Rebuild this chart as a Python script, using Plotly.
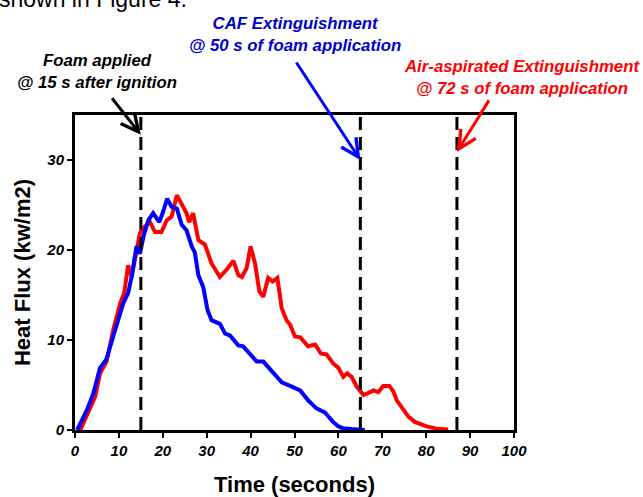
import plotly.graph_objects as go

# ---- data ----
caf_time = [0.5, 2.7, 4.2, 5.7, 7.1, 8.4, 9.9, 11.0, 12.1, 12.9, 14.0, 14.8, 15.6, 16.7, 17.8,
            19.2, 20.1, 21.0, 22.0, 23.2, 24.3, 25.4, 26.6, 27.3, 28.1, 29.2, 30.2, 31.1, 33.0,
            34.2, 35.3, 37.2, 38.3, 39.9, 41.4, 42.9, 44.8, 47.1, 49.0, 51.3, 53.1, 55.0, 56.9,
            58.8, 60.0, 61.0, 63.0, 66.0]
caf_flux = [0.0, 2.2, 4.1, 6.9, 7.8, 10.0, 12.2, 14.1, 15.2, 17.0, 20.4, 19.6, 21.5, 23.3, 24.1,
            23.1, 24.3, 25.7, 24.8, 24.6, 22.8, 22.2, 20.4, 19.7, 17.2, 15.9, 13.3, 12.2, 11.8,
            10.7, 10.5, 9.4, 9.3, 8.5, 7.6, 7.6, 6.5, 5.3, 4.9, 4.4, 3.3, 2.4, 1.96,
            0.9, 0.4, 0.2, 0.1, 0.0]

air_time = [1.2, 3.0, 4.6, 5.7, 7.2, 8.7, 10.3, 11.2, 12.1, 12.9, 14.0, 14.8, 15.9, 17.1, 18.2,
            19.7, 20.9, 22.0, 23.2, 24.3, 25.4, 26.0, 26.9, 28.1, 29.6, 31.1, 33.0, 34.5, 36.1,
            37.2, 38.0, 39.1, 40.0, 41.0, 42.0, 42.9, 44.0, 45.0, 46.1, 47.1, 48.2, 49.0, 50.1,
            51.3, 53.1, 54.7, 56.0, 57.3, 58.8, 60.0, 61.1, 62.0, 63.0, 64.2, 65.7, 66.8, 68.0,
            69.1, 70.2, 71.6, 72.5, 73.3, 74.4, 75.9, 77.4, 80.1, 82.4, 85.0]
air_flux = [0.0, 1.85, 3.7, 6.3, 7.6, 11.1, 14.1, 15.2, 18.3, 17.0, 20.0, 21.9, 22.6, 23.1, 22.0,
            22.0, 23.3, 23.7, 26.1, 25.0, 24.1, 23.1, 24.1, 21.1, 20.6, 18.5, 17.0, 17.8, 18.8,
            17.2, 17.0, 18.0, 20.4, 18.5, 15.4, 14.8, 16.9, 16.5, 16.9, 13.5, 12.2, 11.7, 10.4,
            10.3, 9.3, 9.5, 8.5, 8.4, 7.4, 6.9, 5.9, 6.3, 5.9, 4.8, 3.9, 4.1, 4.4,
            4.2, 4.9, 4.9, 4.3, 3.3, 2.6, 1.5, 0.9, 0.4, 0.15, 0.05]

event_times = [15, 65, 87]          # foam applied, CAF extinguished, air-aspirated extinguished
arrow_tip_flux = [32.8, 30.0, 30.9]
x_ticks = [0, 10, 20, 30, 40, 50, 60, 70, 80, 90, 100]
y_ticks = [0, 10, 20, 30]

FONT = "Liberation Sans, Arial, sans-serif"

# plot area in pixels
L, R, T, B = 75, 129, 115, 67
W, H = 643, 497
PW, PH = W - L - R, H - T - B


def px_to_paper(px, py):
    return (px - L) / PW, (H - B - py) / PH


fig = go.Figure()
fig.add_trace(go.Scatter(x=air_time, y=air_flux, mode="lines",
                         line=dict(color="#FF0000", width=4), showlegend=False))
fig.add_trace(go.Scatter(x=caf_time, y=caf_flux, mode="lines",
                         line=dict(color="#0000FF", width=4), showlegend=False))

for t in event_times:
    fig.add_shape(type="line", xref="x", yref="y", x0=t, x1=t, y0=0, y1=35,
                  line=dict(color="black", width=3, dash="13px,7px"))

# arrows
arrow_specs = [("black", -30, -38), ("#0000FF", -65, -99), ("#FF0000", 33, -53)]
for t, yv, (col, ax, ay) in zip(event_times, arrow_tip_flux, arrow_specs):
    fig.add_annotation(x=t, y=yv, xref="x", yref="y", text="", showarrow=True,
                       ax=ax, ay=ay, arrowhead=5, arrowsize=1.15, arrowwidth=3,
                       arrowcolor=col)

ann_font = dict(family=FONT, size=16.8, weight="bold", style="italic")
texts = [
    ("Foam applied<br>@ 15 s after ignition", 97, 71, "black"),
    ("CAF Extinguishment<br>@ 50 s of foam application", 295, 34, "#0000CC"),
    ("Air-aspirated Extinguishment<br>@ 72 s of foam application", 522, 77, "#FF0000"),
]
for txt, px, py, col in texts:
    xp, yp = px_to_paper(px, py)
    fig.add_annotation(x=xp, y=yp, xref="paper", yref="paper", showarrow=False,
                       xanchor="center", yanchor="middle", text=txt,
                       font=dict(**ann_font, color=col))

# cropped document text at top
xp, yp = px_to_paper(-3, 14)
fig.add_annotation(x=xp, y=yp, xref="paper", yref="paper", xanchor="left",
                   yanchor="bottom", showarrow=False, text="shown in Figure 4.",
                   font=dict(family=FONT, size=23, color="black"))

tick_font = dict(family=FONT, size=15, weight="bold", style="italic", color="black")
title_font = dict(family=FONT, size=22, weight="bold", color="black")

fig.update_xaxes(range=[0, 100], tickvals=x_ticks, ticktext=[str(v) for v in x_ticks],
                 showline=True, mirror=True, linewidth=3, linecolor="black",
                 ticks="outside", ticklen=5, tickwidth=1.5, tickcolor="black",
                 showgrid=False, zeroline=False, tickfont=tick_font, automargin=False,
                 title=dict(text="Time (seconds)", font=title_font, standoff=23),
                 layer="below traces")
fig.update_yaxes(range=[0, 35], tickvals=y_ticks, ticktext=[str(v) for v in y_ticks],
                 showline=True, mirror=True, linewidth=3, linecolor="black",
                 ticks="outside", ticklen=5, tickwidth=1.5, tickcolor="black",
                 showgrid=False, zeroline=False, tickfont=tick_font, automargin=False,
                 title=dict(text="Heat Flux (kw/m2)", font=title_font, standoff=10),
                 layer="below traces")

fig.update_layout(width=W, height=H, plot_bgcolor="white", paper_bgcolor="white",
                  margin=dict(l=L, r=R, t=T, b=B, autoexpand=False), showlegend=False)

fig.write_html("out.html", config={"displayModeBar": False},
               post_script="document.body.style.margin='0';")
